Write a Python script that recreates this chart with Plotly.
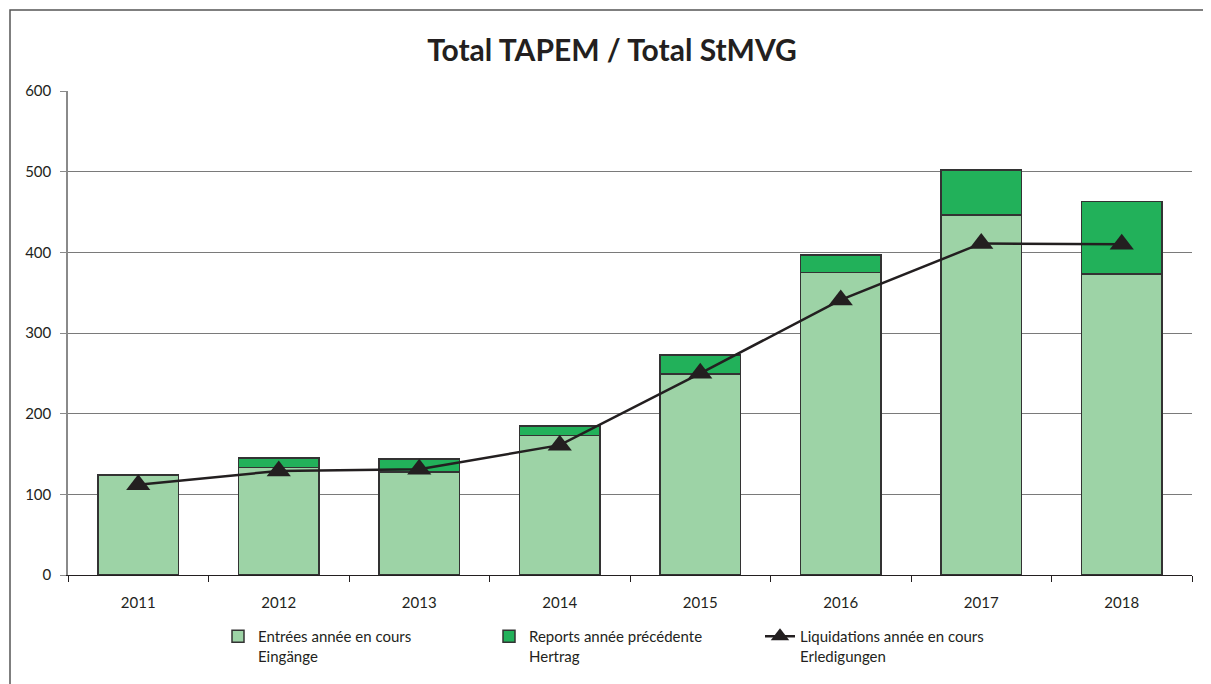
import plotly.graph_objects as go

years = ["2011", "2012", "2013", "2014", "2015", "2016", "2017", "2018"]
entrees = [124, 133, 128, 173, 249, 375, 446, 373]
reports = [0, 12, 16, 12, 24, 22, 56, 90]
liquidations = [112, 129, 131, 161, 250, 341, 411, 410]

FONT = "Lato, 'Open Sans', sans-serif"

fig = go.Figure()
fig.add_trace(go.Bar(
    x=years, y=entrees, name="Entrées année en cours<br>Eingänge",
    marker=dict(color="#9dd3a6", line=dict(color="#333333", width=1.5)),
))
fig.add_trace(go.Bar(
    x=years, y=reports, name="Reports année précédente<br>Hertrag",
    marker=dict(color="#22b15a", line=dict(color="#333333", width=1.5)),
))
fig.add_trace(go.Scatter(
    x=years, y=liquidations, name="Liquidations année en cours<br>Erledigungen",
    mode="lines+markers",
    line=dict(color="#231f20", width=2.5),
    marker=dict(symbol="triangle-up", size=21, color="#231f20"),
))

OFF = 8  # page body margin
W, H = 1211 - OFF, 684 - OFF
# page-pixel geometry of the plot area
L, R, T, B = 68, 1192, 91, 575

def px(x):
    return (x - L) / (R - L)

def py(y):
    return (B - y) / (B - T)

fig.update_layout(
    width=W, height=H,
    margin=dict(l=L - OFF, r=W - (R - OFF), t=T - OFF, b=H - (B - OFF), autoexpand=False),
    paper_bgcolor="white", plot_bgcolor="white",
    barmode="stack", bargap=0.43,
    font=dict(family=FONT, size=15, color="#231f20"),
    title=dict(text="<b>Total TAPEM / Total StMVG</b>", x=(612 - OFF) / W, xref="container",
               xanchor="center", y=1 - (50 - OFF) / H, yref="container", yanchor="middle",
               font=dict(size=30, family=FONT, color="#231f20")),
    xaxis=dict(type="category", showgrid=False, showline=True, linecolor="#231f20",
               linewidth=1, ticks="outside", tickson="boundaries", ticklen=6,
               tickcolor="#231f20", tickfont=dict(size=15), ticklabelstandoff=14),
    yaxis=dict(range=[0, 600], dtick=100, showgrid=True, gridcolor="#7a7a7a",
               gridwidth=1, showline=True, linecolor="#8a8a8a", linewidth=1.5,
               ticks="outside", ticklen=6, tickcolor="#8a8a8a",
               tickfont=dict(size=15), zeroline=False, ticklabelstandoff=6),
    legend=dict(orientation="h", x=px(218), xanchor="left", y=py(620), yanchor="top",
                entrywidth=226, entrywidthmode="pixels",
                font=dict(size=15, family=FONT), bgcolor="rgba(0,0,0,0)",
                traceorder="normal", valign="top"),
    showlegend=True,
)

fig.add_shape(type="rect", xref="paper", yref="paper",
              x0=px(10), x1=px(1205), y0=py(700), y1=py(10),
              line=dict(color="#555555", width=1.5), fillcolor="rgba(0,0,0,0)", layer="below")

fig.write_html("out.html")
